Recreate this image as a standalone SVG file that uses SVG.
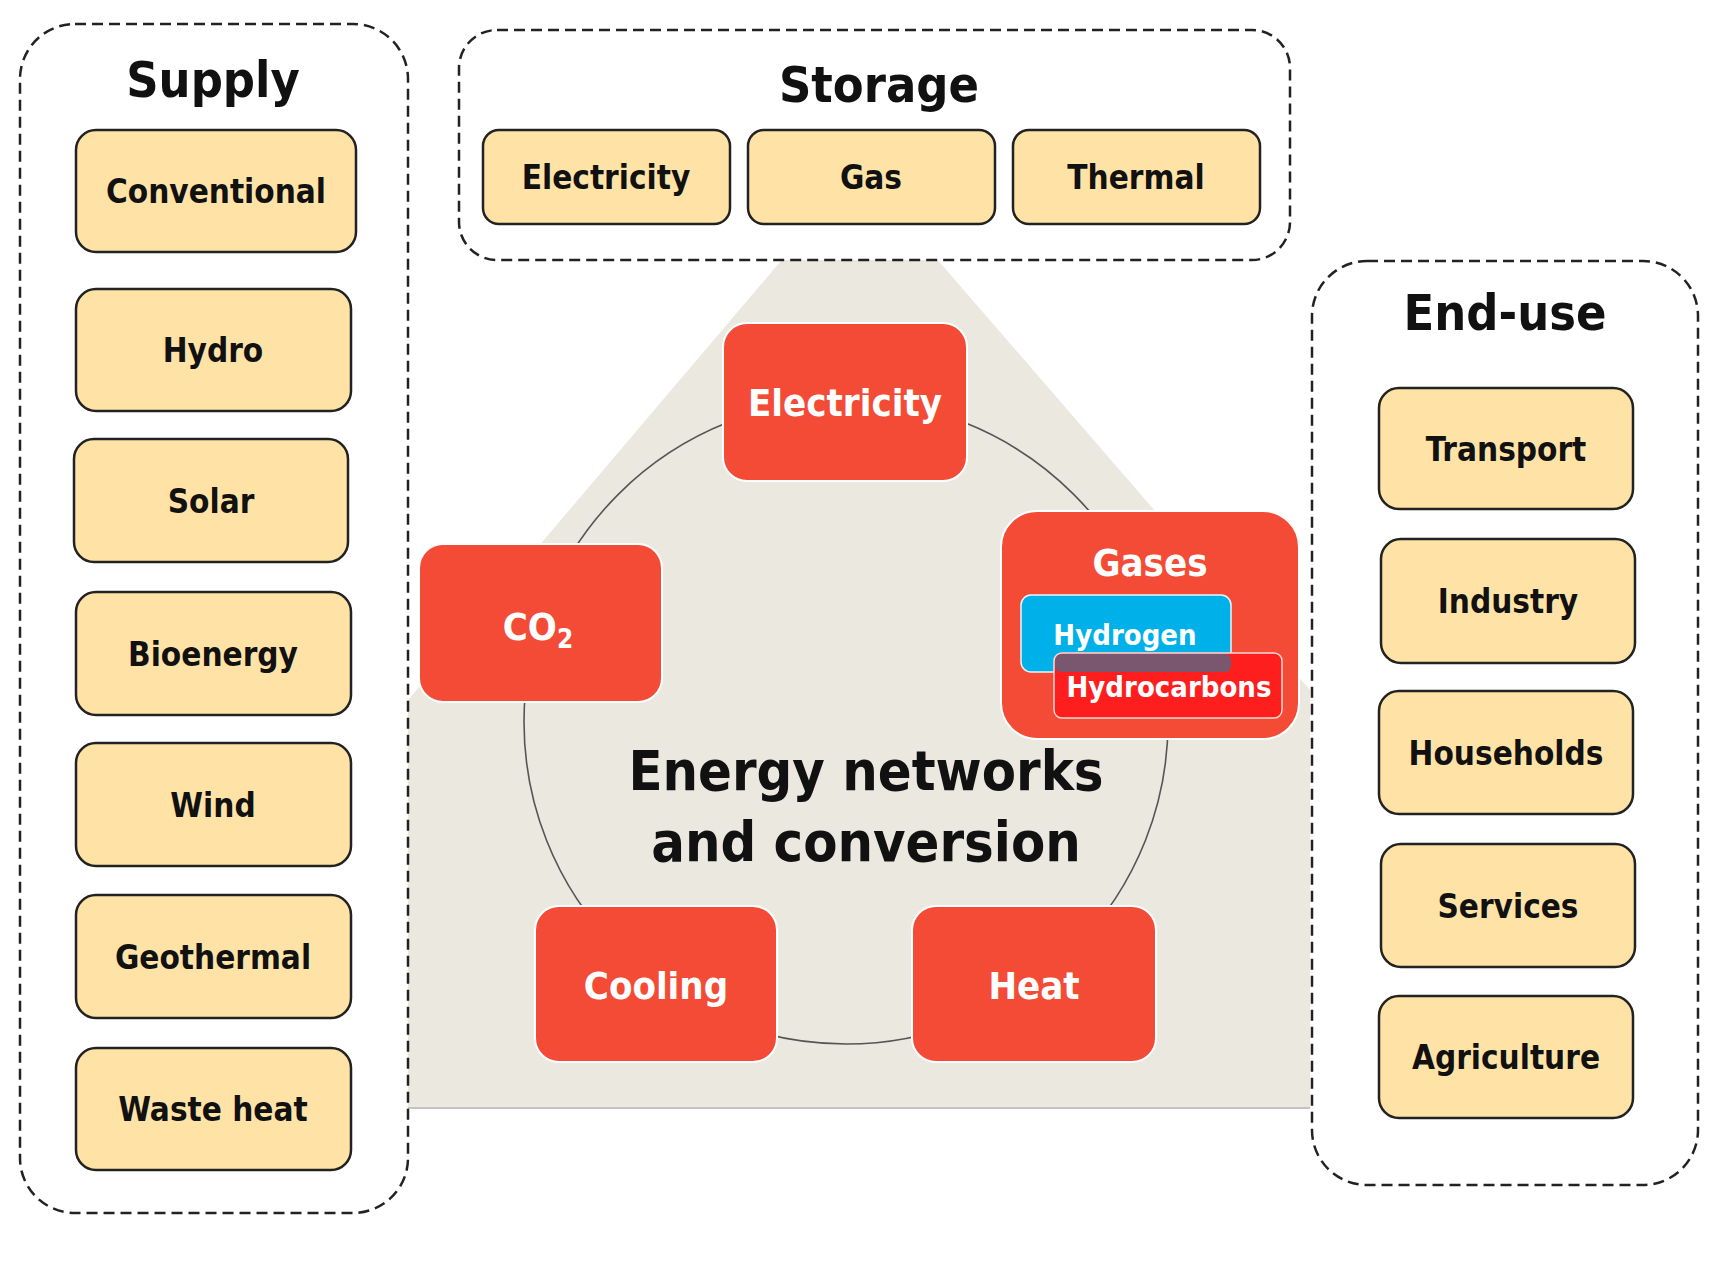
<svg xmlns="http://www.w3.org/2000/svg" width="1729" height="1266" viewBox="0 0 1729 1266">
<style>
text{font-family:"DejaVu Sans Condensed","DejaVu Sans","Liberation Sans",sans-serif;font-weight:bold;font-stretch:condensed;text-anchor:middle}
.cont{fill:#fff;stroke:#222;stroke-width:2.5;stroke-dasharray:11 6}
.title{font-size:50px;fill:#111}
.box{fill:#ffe3a6;stroke:#222;stroke-width:2.5}
.bl{font-size:33px;fill:#111}
.red{fill:#f34b35;stroke:#fff;stroke-width:2}
.rl{font-size:38px;fill:#fff}
.sl{font-size:29px;fill:#fff}
.ring{fill:none;stroke:#555;stroke-width:1.6}
</style>
<rect width="1729" height="1266" fill="#fff"/>
<g id="background">
<polygon points="408,700 859,169 1310,690 1310,1108 408,1108" fill="#ebe8e0"/>
<line x1="408" y1="1108" x2="1310" y2="1108" stroke="#c4c4c4" stroke-width="2"/>
</g>
<g id="supply">
<rect class="cont" x="20" y="24" width="388" height="1189" rx="55"/>
<text class="title" x="213" y="97">Supply</text>
<g id="conventional"><rect class="box" x="76" y="130" width="280" height="122" rx="20"/><text class="bl" x="216" y="203">Conventional</text></g>
<g id="hydro"><rect class="box" x="76" y="289" width="275" height="122" rx="20"/><text class="bl" x="213" y="362">Hydro</text></g>
<g id="solar"><rect class="box" x="74" y="439" width="274" height="123" rx="20"/><text class="bl" x="211" y="513">Solar</text></g>
<g id="bioenergy"><rect class="box" x="76" y="592" width="275" height="123" rx="20"/><text class="bl" x="213" y="666">Bioenergy</text></g>
<g id="wind"><rect class="box" x="76" y="743" width="275" height="123" rx="20"/><text class="bl" x="213" y="817">Wind</text></g>
<g id="geothermal"><rect class="box" x="76" y="895" width="275" height="123" rx="20"/><text class="bl" x="213" y="969">Geothermal</text></g>
<g id="waste-heat"><rect class="box" x="76" y="1048" width="275" height="122" rx="20"/><text class="bl" x="213" y="1121">Waste heat</text></g>
</g>
<g id="storage">
<rect class="cont" x="459" y="30" width="831" height="230" rx="38"/>
<text class="title" x="879" y="102">Storage</text>
<g id="storage-electricity"><rect class="box" x="483" y="130" width="247" height="94" rx="16"/><text class="bl" x="606" y="189">Electricity</text></g>
<g id="storage-gas"><rect class="box" x="748" y="130" width="247" height="94" rx="16"/><text class="bl" x="871" y="189">Gas</text></g>
<g id="storage-thermal"><rect class="box" x="1013" y="130" width="247" height="94" rx="16"/><text class="bl" x="1136" y="189">Thermal</text></g>
</g>
<g id="end-use">
<rect class="cont" x="1312" y="261" width="386" height="924" rx="55"/>
<text class="title" x="1505" y="330">End-use</text>
<g id="transport"><rect class="box" x="1379" y="388" width="254" height="121" rx="20"/><text class="bl" x="1506" y="461">Transport</text></g>
<g id="industry"><rect class="box" x="1381" y="539" width="254" height="124" rx="20"/><text class="bl" x="1508" y="613">Industry</text></g>
<g id="households"><rect class="box" x="1379" y="691" width="254" height="123" rx="20"/><text class="bl" x="1506" y="765">Households</text></g>
<g id="services"><rect class="box" x="1381" y="844" width="254" height="123" rx="20"/><text class="bl" x="1508" y="918">Services</text></g>
<g id="agriculture"><rect class="box" x="1379" y="996" width="254" height="122" rx="20"/><text class="bl" x="1506" y="1069">Agriculture</text></g>
</g>
<g id="connectors">
<circle class="ring" cx="846" cy="722" r="322"/>
</g>
<g id="center-label">
<text x="866" y="790" style="font-size:55.5px;fill:#111">Energy networks</text>
<text x="866" y="861" style="font-size:55.5px;fill:#111">and conversion</text>
</g>
<g id="electricity"><rect class="red" x="723" y="323" width="244" height="158" rx="24"/><text class="rl" x="845" y="416">Electricity</text></g>
<g id="co2"><rect class="red" x="419" y="544" width="243" height="158" rx="24"/><text class="rl" x="538" y="640">CO<tspan font-size="26" dy="8">2</tspan></text></g>
<g id="cooling"><rect class="red" x="535" y="906" width="242" height="156" rx="24"/><text class="rl" x="656" y="999">Cooling</text></g>
<g id="heat"><rect class="red" x="912" y="906" width="244" height="156" rx="24"/><text class="rl" x="1034" y="999">Heat</text></g>
<g id="gases">
<rect class="red" x="1001" y="511" width="298" height="228" rx="36"/>
<text class="rl" x="1150" y="576">Gases</text>
<g id="hydrogen"><rect x="1021" y="595" width="210" height="77" rx="10" fill="#00b0e8" stroke="#e6f6fc" stroke-width="1.5"/></g>
<g id="hydrocarbons">
<rect x="1054" y="653" width="228" height="65" rx="8" fill="#ff1e1e"/>
<rect x="1055" y="654" width="176" height="18" rx="6" fill="#7a566f"/>
<rect x="1054" y="653" width="228" height="65" rx="8" fill="none" stroke="#ffd8d8" stroke-width="1.5"/>
<text class="sl" x="1169" y="697">Hydrocarbons</text>
</g>
<text class="sl" x="1125" y="645">Hydrogen</text>
</g>
</svg>
